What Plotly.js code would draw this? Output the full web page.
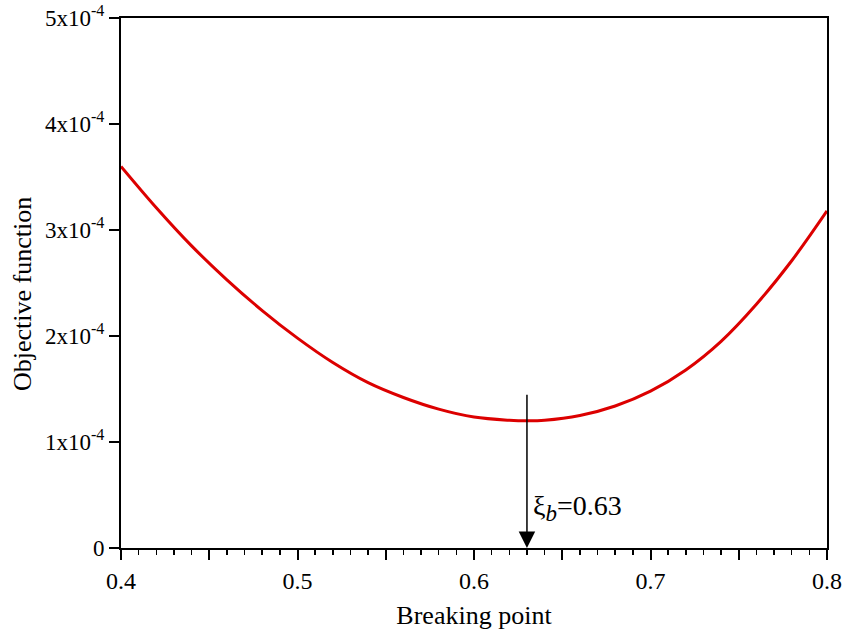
<!DOCTYPE html>
<html>
<head>
<meta charset="utf-8">
<script src="https://cdn.plot.ly/plotly-3.0.1.min.js"></script>
<style>html,body{margin:0;padding:0;background:#fff;}#chart{width:844px;height:634px;}</style>
</head>
<body>
<div id="chart"></div>
<script>
// Breaking point (x) and objective function (x1e-4)
const breakingPoint = [0.40,0.42,0.44,0.46,0.48,0.50,0.52,0.54,0.56,0.58,0.60,0.62,0.63,0.64,0.66,0.68,0.70,0.72,0.74,0.76,0.78,0.80];
const objectiveE4   = [3.60,3.21,2.85,2.53,2.24,1.98,1.75,1.56,1.42,1.31,1.235,1.205,1.20,1.205,1.25,1.34,1.48,1.68,1.95,2.30,2.71,3.18];
const xTickVals = [0.40,0.45,0.50,0.55,0.60,0.65,0.70,0.75,0.80];
const xTickText = ['0.4','','0.5','','0.6','','0.7','','0.8'];
const yTickVals = [0,1e-4,2e-4,3e-4,4e-4,5e-4];
const yTickText = ['0','1x10<sup>-4</sup>','2x10<sup>-4</sup>','3x10<sup>-4</sup>','4x10<sup>-4</sup>','5x10<sup>-4</sup>'];
const xiB = 0.63;
const arrowTop = 1.46e-4;
const labelY = 0.38e-4;

const objective = objectiveE4.map(v => v * 1e-4);
const fam = 'Liberation Serif';
const f = s => ({family: fam, size: s, color: '#000'});

const trace = {
  x: breakingPoint, y: objective, type: 'scatter', mode: 'lines',
  line: {color: 'rgb(220,0,0)', width: 3, shape: 'spline', smoothing: 1},
  hoverinfo: 'skip'
};

const layout = {
  width: 844, height: 634,
  margin: {l: 121, r: 17, t: 18, b: 86},
  paper_bgcolor: '#fff', plot_bgcolor: '#fff',
  showlegend: false,
  font: f(23),
  xaxis: {
    range: [0.4, 0.8], tickmode: 'array', tickvals: xTickVals, ticktext: xTickText,
    ticks: 'outside', ticklen: 10, tickwidth: 2, tickcolor: '#000',
    showline: true, linecolor: '#000', linewidth: 2, mirror: true,
    showgrid: false, zeroline: false,
    tickfont: f(24),
    minor: {dtick: 0.01, tick0: 0.4, ticks: 'outside', ticklen: 5, tickwidth: 1.5, tickcolor: '#000', showgrid: false},
    title: {text: 'Breaking point', font: f(26), standoff: 13}
  },
  yaxis: {
    range: [0, 5e-4], tickmode: 'array', tickvals: yTickVals, ticktext: yTickText,
    ticks: 'outside', ticklen: 10, tickwidth: 2, tickcolor: '#000',
    showline: true, linecolor: '#000', linewidth: 2, mirror: true,
    showgrid: false, zeroline: false,
    tickfont: f(23),
    title: {text: ''}
  },
  annotations: [
    {
      x: 0, y: 0.5, xref: 'paper', yref: 'paper', xanchor: 'center', yanchor: 'middle',
      xshift: -99, yshift: -11, textangle: -90, showarrow: false,
      text: 'Objective function', font: f(26)
    },
    {
      x: xiB, y: 0, xref: 'x', yref: 'y', ax: xiB, ay: arrowTop, axref: 'x', ayref: 'y',
      showarrow: true, arrowhead: 2, arrowsize: 2.2, arrowwidth: 1.5, arrowcolor: '#000', text: ''
    },
    {
      x: xiB, y: labelY, xref: 'x', yref: 'y', xanchor: 'left', yanchor: 'middle', xshift: 4,
      showarrow: false, text: 'ξ<sub><span style="font-size:23px"><i>b</i></span></sub>=0.63', font: f(28)
    }
  ]
};

Plotly.newPlot('chart', [trace], layout, {displayModeBar: false, staticPlot: true});
</script>
</body>
</html>
